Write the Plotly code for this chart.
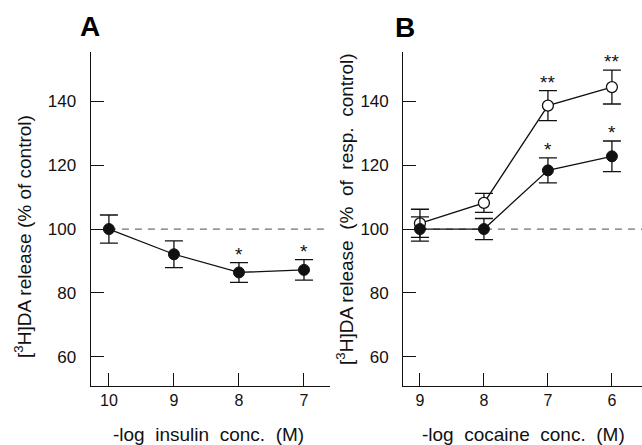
import plotly.graph_objects as go

# ---- data ----
insulin_x = [10, 9, 8, 7]
insulin_mean = [100, 92.1, 86.4, 87.2]
insulin_sem = [4.4, 4.2, 3.1, 3.2]
insulin_stars = ["", "", "*", "*"]

cocaine_x = [9, 8, 7, 6]
cocaine_open_mean = [101.8, 108.2, 138.7, 144.5]
cocaine_open_sem = [4.4, 3.0, 4.7, 5.3]
cocaine_open_stars = ["", "", "**", "**"]
cocaine_filled_mean = [100, 100, 118.4, 122.8]
cocaine_filled_sem = [3.8, 3.3, 3.9, 4.8]
cocaine_filled_stars = ["", "", "*", "*"]

y_ticks = [60, 80, 100, 120, 140]
control_level = 100

W, H = 642, 445
FONT = "Arial, Liberation Sans, sans-serif"
INK = "#111111"

xrange_a = [10.28, 6.6]
xrange_b = [9.26, 5.53]
yrange = [50.8, 155.5]

fig = go.Figure()

def err(arr):
    return dict(type="data", array=arr, visible=True, color=INK, thickness=1.3, width=9)

# reference dashed lines
fig.add_trace(go.Scatter(x=[insulin_x[0], xrange_a[1]], y=[control_level, control_level],
                         mode="lines", line=dict(color="#707070", width=1.2, dash="7px,6px"),
                         xaxis="x", yaxis="y", hoverinfo="skip"))
fig.add_trace(go.Scatter(x=[cocaine_x[0], xrange_b[1]], y=[control_level, control_level],
                         mode="lines", line=dict(color="#707070", width=1.2, dash="7px,6px"),
                         xaxis="x2", yaxis="y2", hoverinfo="skip"))

# panel A
fig.add_trace(go.Scatter(x=insulin_x, y=insulin_mean, error_y=err(insulin_sem),
                         mode="lines+markers", line=dict(color=INK, width=1.3),
                         marker=dict(size=11, color=INK, line=dict(color=INK, width=1)),
                         xaxis="x", yaxis="y"))
# panel B open
fig.add_trace(go.Scatter(x=cocaine_x, y=cocaine_open_mean, error_y=err(cocaine_open_sem),
                         mode="lines+markers", line=dict(color=INK, width=1.3),
                         marker=dict(size=11, color="white", line=dict(color=INK, width=1.3)),
                         xaxis="x2", yaxis="y2"))
# panel B filled
fig.add_trace(go.Scatter(x=cocaine_x, y=cocaine_filled_mean, error_y=err(cocaine_filled_sem),
                         mode="lines+markers", line=dict(color=INK, width=1.3),
                         marker=dict(size=11, color=INK, line=dict(color=INK, width=1)),
                         xaxis="x2", yaxis="y2"))

annotations = []
def stars(xs, means, sems, labels, xref, yref):
    for x, m, s, t in zip(xs, means, sems, labels):
        if t:
            annotations.append(dict(x=x, y=m + s, xref=xref, yref=yref, text=t, showarrow=False,
                                    yanchor="bottom", yshift=-4, font=dict(family=FONT, size=19, color=INK)))

stars(insulin_x, insulin_mean, insulin_sem, insulin_stars, "x", "y")
stars(cocaine_x, cocaine_open_mean, cocaine_open_sem, cocaine_open_stars, "x2", "y2")
stars(cocaine_x, cocaine_filled_mean, cocaine_filled_sem, cocaine_filled_stars, "x2", "y2")

def px(xp, yp):
    return xp / W, 1 - yp / H

for txt, (xp, yp) in [("A", (90, 27)), ("B", (405, 28))]:
    x, y = px(xp, yp)
    annotations.append(dict(x=x, y=y, xref="paper", yref="paper", text="<b>%s</b>" % txt,
                            showarrow=False, xanchor="center", yanchor="middle",
                            font=dict(family=FONT, size=28, color="black")))

x, y = px(23, 237)
annotations.append(dict(x=x, y=y, xref="paper", yref="paper", textangle=-90,
                        text="[<sup>3</sup>H]DA release (% of control)", showarrow=False,
                        xanchor="center", yanchor="middle", font=dict(family=FONT, size=19, color=INK)))
x, y = px(345, 209)
annotations.append(dict(x=x, y=y, xref="paper", yref="paper", textangle=-90,
                        text="[<sup>3</sup>H]DA release  (%  of  resp.  control)", showarrow=False,
                        xanchor="center", yanchor="middle", font=dict(family=FONT, size=19, color=INK)))
x, y = px(208, 434)
annotations.append(dict(x=x, y=y, xref="paper", yref="paper",
                        text="-log  insulin  conc.  (M)", showarrow=False,
                        xanchor="center", yanchor="middle", font=dict(family=FONT, size=19, color=INK)))
x, y = px(523, 434)
annotations.append(dict(x=x, y=y, xref="paper", yref="paper",
                        text="-log  cocaine  conc.  (M)", showarrow=False,
                        xanchor="center", yanchor="middle", font=dict(family=FONT, size=19, color=INK)))

ydom = [(H - 386) / H, (H - 52) / H]
common_x = dict(showline=True, linecolor=INK, linewidth=1.3, ticks="inside", ticklen=13,
                tickwidth=1.3, tickcolor=INK, showgrid=False, zeroline=False,
                tickfont=dict(family=FONT, size=16, color=INK), ticklabelstandoff=0)
common_y = dict(showline=True, linecolor=INK, linewidth=1.3, ticks="inside", ticklen=13,
                tickwidth=1.3, tickcolor=INK, showgrid=False, zeroline=False,
                tickfont=dict(family=FONT, size=17, color=INK), range=yrange,
                tickvals=y_ticks, ticklabelstandoff=10, domain=ydom)

fig.update_layout(
    width=W, height=H, margin=dict(l=0, r=0, t=0, b=0),
    paper_bgcolor="white", plot_bgcolor="white", showlegend=False,
    xaxis=dict(domain=[90.7 / W, 330 / W], range=xrange_a, tickvals=insulin_x,
               anchor="y", **common_x),
    yaxis=dict(anchor="x", **common_y),
    xaxis2=dict(domain=[403.3 / W, 1.0], range=xrange_b, tickvals=cocaine_x,
                anchor="y2", **common_x),
    yaxis2=dict(anchor="x2", **common_y),
    annotations=annotations,
)

fig.write_html("out.html")
